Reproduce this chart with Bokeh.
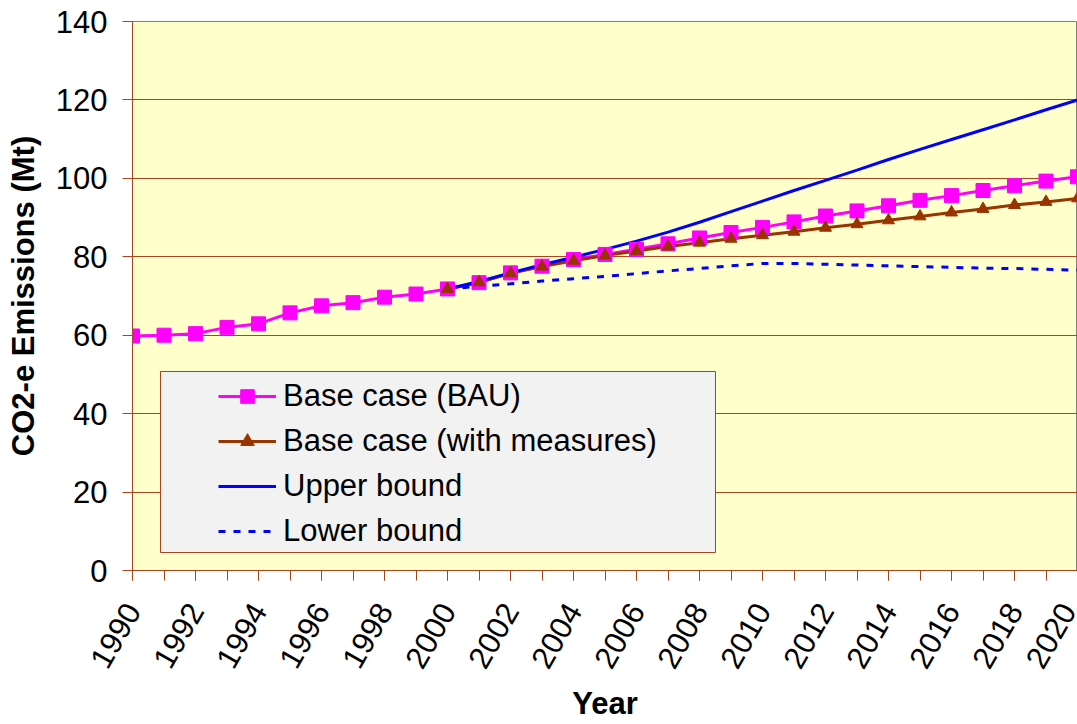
from bokeh.plotting import figure
from bokeh.models import Range1d, FixedTicker, Legend, LegendItem, BoxAnnotation
from bokeh.embed import file_html
from bokeh.resources import INLINE

# ---- data ----
years_bau = list(range(1990, 2021))
bau = [59.8, 60.0, 60.4, 62.0, 62.9, 65.7, 67.5, 68.3, 69.7, 70.5,
       71.8, 73.4, 75.9, 77.6, 79.3, 80.6, 81.9, 83.3, 84.8, 86.2,
       87.5, 88.9, 90.4, 91.7, 93.0, 94.4, 95.6, 96.9, 98.1, 99.3, 100.4]

years_proj = list(range(2000, 2021))
measures = [71.8, 73.5, 75.8, 77.5, 79.0, 80.3, 81.5, 82.6, 83.6, 84.6,
            85.5, 86.4, 87.4, 88.3, 89.3, 90.3, 91.3, 92.2, 93.2, 94.0, 94.9]
upper = [71.8, 73.7, 75.9, 78.0, 79.9, 81.9, 84.0, 86.3, 88.8, 91.5,
         94.2, 96.9, 99.5, 102.1, 104.8, 107.4, 109.9, 112.4, 114.9, 117.5, 120.0]
lower = [71.8, 72.5, 73.1, 73.8, 74.4, 75.0, 75.7, 76.4, 77.0, 77.7,
         78.3, 78.3, 78.1, 77.9, 77.7, 77.5, 77.3, 77.1, 77.0, 76.8, 76.6]

series_names = ["Base case (BAU)", "Base case (with measures)", "Upper bound", "Lower bound"]
x_label_years = list(range(1990, 2021, 2))
x_minor_years = list(range(1990, 2021))
y_ticks = [0, 20, 40, 60, 80, 100, 120, 140]

# ---- styles ----
FONT = "Liberation Sans"
FS = "31px"
MAGENTA = "#FF00FF"
BROWN = "#993300"
BLUE = "#0000FF"
AXIS_COL = "#A8451F"

p = figure(width=1077, height=724,
           x_range=Range1d(1990, 2020), y_range=Range1d(0, 140),
           output_backend="svg", toolbar_location=None,
           min_border_left=132, min_border_right=0,
           min_border_top=21, min_border_bottom=153)
p.background_fill_color = "#FFFFCC"
p.border_fill_color = "white"
p.outline_line_color = "#808080"
p.outline_line_width = 1

# axes
p.xaxis.ticker = FixedTicker(ticks=x_label_years, minor_ticks=x_minor_years)
p.yaxis.ticker = FixedTicker(ticks=y_ticks)
for ax in (p.xaxis, p.yaxis):
    ax.axis_line_color = AXIS_COL
    ax.axis_line_width = 1
    ax.major_tick_line_color = AXIS_COL
    ax.minor_tick_line_color = AXIS_COL
    ax.major_tick_out = 10
    ax.major_tick_in = 0
    ax.minor_tick_out = 10
    ax.minor_tick_in = 0
    ax.major_label_text_font = FONT
    ax.major_label_text_font_size = FS
    ax.major_label_text_color = "black"
    ax.axis_label_text_font = FONT
    ax.axis_label_text_font_size = FS
    ax.axis_label_text_font_style = "bold"
    ax.axis_label_text_color = "black"
p.yaxis.minor_tick_line_color = None
p.xaxis.major_label_orientation = 1.0472
p.xaxis.major_label_standoff = 25
p.xaxis.axis_label = "Year"
p.xaxis.axis_label_standoff = 7
p.yaxis.axis_label = "CO2-e Emissions (Mt)"
p.yaxis.major_label_standoff = 15
p.yaxis.axis_label_standoff = 12

p.xgrid.grid_line_color = None
p.ygrid.grid_line_color = AXIS_COL
p.ygrid.grid_line_width = 1

# lines first, then markers (as in the original)
l_bau = p.line(years_bau, bau, line_color=MAGENTA, line_width=3)
l_meas = p.line(years_proj, measures, line_color=BROWN, line_width=3)
l_up = p.line(years_proj, upper, line_color=BLUE, line_width=3)
l_low = p.line(years_proj, lower, line_color=BLUE, line_width=3, line_dash="7 8")
m_bau = p.scatter(years_bau, bau, marker="square", size=14,
                  fill_color=MAGENTA, line_color=MAGENTA)
m_meas = p.scatter(years_proj, measures, marker="triangle", size=12,
                   fill_color=BROWN, line_color=BROWN)

# legend box
box = BoxAnnotation(left=28, right=583, top=199, bottom=18,
                    left_units="screen", right_units="screen",
                    top_units="screen", bottom_units="screen",
                    fill_color="#F2F2F2", fill_alpha=1.0,
                    line_color=AXIS_COL, line_width=1, line_alpha=1.0)
p.add_layout(box)

legend = Legend(items=[
    LegendItem(label=series_names[0], renderers=[l_bau, m_bau]),
    LegendItem(label=series_names[1], renderers=[l_meas, m_meas]),
    LegendItem(label=series_names[2], renderers=[l_up]),
    LegendItem(label=series_names[3], renderers=[l_low]),
], location=(86, 17))
legend.padding = 0
legend.spacing = 0
legend.margin = 0
legend.border_line_color = None
legend.background_fill_alpha = 0
legend.glyph_width = 58
legend.glyph_height = 34
legend.label_height = 45
legend.label_standoff = 7
legend.label_text_font = FONT
legend.label_text_font_size = FS
legend.label_text_color = "black"
p.add_layout(legend, "center")

open("out.html", "w").write(file_html(p, INLINE))
